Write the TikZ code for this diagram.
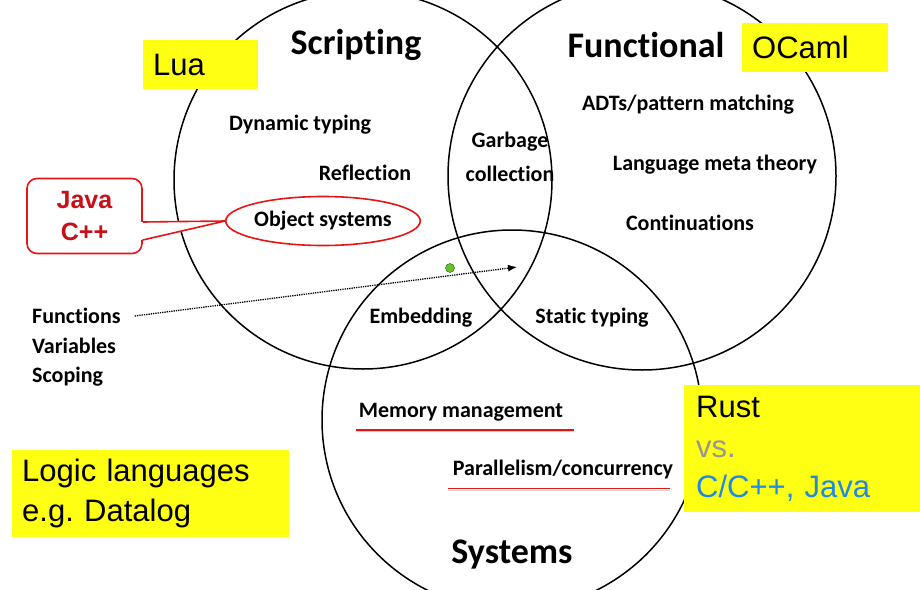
\documentclass[tikz,border=0pt]{standalone}
\usepackage{fontspec}
\setmainfont{Carlito}[RawFeature={-liga;-clig;-calt;-dlig}]
\newfontfamily\arialfont{Liberation Sans}
\usetikzlibrary{shapes.geometric}
\usetikzlibrary{arrows.meta}
\usetikzlibrary{calc}

\definecolor{boxyellow}{RGB}{255,255,20}
\definecolor{calloutred}{RGB}{230,20,20}
\definecolor{javared}{RGB}{200,16,24}
\definecolor{vsgray}{RGB}{150,150,150}
\definecolor{langblue}{RGB}{30,136,229}
\definecolor{handlegreen}{RGB}{110,190,40}

\tikzset{
    area/.style={line width=1.5pt, black},
    title/.style={font=\fontsize{36}{40}\selectfont\bfseries, inner sep=2pt},
    topic/.style={font=\fontsize{22}{34}\selectfont\bfseries, inner sep=2pt},
    yellowbox/.style={fill=boxyellow, anchor=north west, align=left, inner xsep=10pt,
        inner ysep=0pt, font=\arialfont\fontsize{31}{40}\selectfont},
    underline/.style={line width=1.6pt, calloutred},
    shade line/.style={line width=1pt, black!18}
}

\begin{document}
\begin{tikzpicture}[x=1pt, y=-1pt]

    \useasboundingbox (0,0) rectangle (920,589);

    % The three circles
    \coordinate (scriptC) at (363,180);
    \coordinate (funcC) at (642,176);
    \coordinate (sysC) at (512,420);
    \draw[area] (scriptC) circle[radius=189];
    \draw[area] (funcC) circle[radius=194];
    \draw[area] (sysC) circle[radius=190];

    % Titles
    \node[title] (scripting) at (356,45) {Scripting};
    \node[title] (functional) at (646,45) {Functional};
    \node[title] (systems) at (512,555) {Systems};

    % Scripting only
    \node[topic] (dyntyping) at (300,125) {Dynamic typing};
    \node[topic] (reflection) at (365,173) {Reflection};
    \node[topic, draw=calloutred, line width=1.6pt, ellipse, inner sep=0pt,
        minimum width=177pt, minimum height=49pt] (objsys) at (323,221) {Object systems};

    % Scripting and functional
    \node[topic, align=center] (garbage) at (510,157) {Garbage\\collection};

    % Functional only
    \node[topic] (adts) at (688,105) {ADTs/pattern matching};
    \node[topic] (meta) at (715,165) {Language meta theory};
    \node[topic] (cont) at (690,223) {Continuations};

    % Pairs with systems
    \node[topic] (embedding) at (421,318) {Embedding};
    \node[topic] (static) at (592,318) {Static typing};

    % Systems only
    \node[topic] (memory) at (461,412) {Memory management};
    \node[topic] (parallel) at (563,470) {Parallelism/concurrency};
    \draw[shade line] ($(memory.south west)+(-1,8.5)$) -- ($(memory.south east)+(9,8.5)$);
    \draw[underline] ($(memory.south west)+(-1,7)$) -- ($(memory.south east)+(9,7)$);
    \draw[shade line] ($(parallel.south west)+(-3,8.5)$) -- ($(parallel.south east)+(-5,8.5)$);
    \draw[underline] ($(parallel.south west)+(-3,7)$) -- ($(parallel.south east)+(-5,7)$);

    % Common to all
    \node[topic, anchor=west] (funcs) at (30,316) {Functions};
    \node[topic, anchor=west] (vars) at (30,346) {Variables};
    \node[topic, anchor=west] (scoping) at (30,377) {Scoping};
    \coordinate (arrowtip) at (517,267);
    \draw[line width=1.3pt, densely dotted, -{Latex[length=9pt, width=7pt]}]
        ($(funcs.east)+(12,0)$) -- (arrowtip);
    \node[circle, fill=handlegreen, draw=green!40!black, line width=0.4pt,
        minimum size=9pt, inner sep=0pt] (handle) at (450,268) {};

    % Callout for object systems
    \node[draw=calloutred, line width=1.6pt, fill=white, rounded corners=10pt,
        minimum width=115pt, minimum height=75pt, align=center, text=javared,
        font=\arialfont\bfseries\fontsize{25}{32}\selectfont] (javabox) at (84.5,216) {Java\\C++};
    \coordinate (tip) at (objsys.west);
    \fill[white] ($(javabox.east)+(-2,6)$) -- (tip) -- ($(javabox.east)+(-2,24)$) -- cycle;
    \draw[calloutred, line width=1.6pt, line join=round]
        ($(javabox.east)+(0,6)$) -- (tip) -- ($(javabox.east)+(0,24)$);

    % Languages
    \node[yellowbox, minimum height=49pt, text width=95pt] (lua) at (143,40) {Lua};
    \node[yellowbox, minimum height=49pt, text width=126pt] (ocaml) at (742,23) {OCaml};
    \node[yellowbox, minimum height=127pt, text width=212pt, inner xsep=12pt] (rust) at (684,385)
        {Rust\\\textcolor{vsgray}{vs.}\\\textcolor{langblue}{C/C++, Java}};
    \node[yellowbox, minimum height=87pt, text width=257pt] (logic) at (12,450)
        {Logic languages\\e.g.\ Datalog};

\end{tikzpicture}
\end{document}
